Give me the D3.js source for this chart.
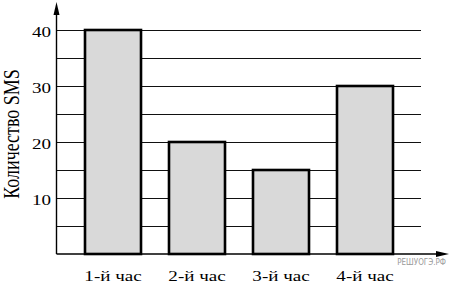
<!DOCTYPE html>
<html>
	<head>
		<script src="https://d3js.org/d3.v7.min.js" charset="utf-8"></script>
		<style>
			body { margin: 0; background: #fff; }
			text { font-family: "Liberation Serif", "Times New Roman", serif; fill: #000; }
		</style>
	</head>

	<body>
		<svg id="chart" width="450" height="287"></svg>

		<script>
            // data
            const hours = ["1-й час", "2-й час", "3-й час", "4-й час"];
            const smsCounts = [40, 20, 15, 30];
            const gridValues = [5, 10, 15, 20, 25, 30, 35, 40];
            const tickLabels = [10, 20, 30, 40];
            const yTitle = "Количество SMS";
            const watermark = "РЕШУОГЭ.РФ";

            const svg = d3.select("#chart");
            const stretch = 1.27;  // the original text is stretched horizontally

            var x = d3.scaleBand()
                .domain(hours)
                .range([71, 407])
                .paddingInner(1 / 3)
                .paddingOuter(1 / 6);
            var y = d3.scaleLinear()
                .domain([0, 40])
                .range([254, 30]);
            const axisX = 56.5;
            const gridEnd = 421;

            // grid lines
            svg.append("g")
                .selectAll("line")
                .data(gridValues)
                .enter()
                .append("line")
                .attr("x1", axisX)
                .attr("x2", gridEnd)
                .attr("y1", d => Math.round(y(d)) + 0.5)
                .attr("y2", d => Math.round(y(d)) + 0.5)
                .attr("stroke", "#111")
                .attr("stroke-width", 1.1);

            // bars
            svg.append("g")
                .selectAll("rect")
                .data(smsCounts)
                .enter()
                .append("rect")
                .attr("x", (d, i) => x(hours[i]))
                .attr("y", d => y(d))
                .attr("width", x.bandwidth())
                .attr("height", d => y(0) - y(d))
                .attr("fill", "#d9d9d9")
                .attr("stroke", "#000")
                .attr("stroke-width", 2.6);

            // axes with arrows
            svg.append("line")
                .attr("x1", axisX).attr("x2", axisX)
                .attr("y1", y(0)).attr("y2", 12)
                .attr("stroke", "#000").attr("stroke-width", 1.4);
            svg.append("path")
                .attr("d", `M${axisX},2 L${axisX - 3},15 L${axisX + 3},15 Z`)
                .attr("fill", "#000");
            svg.append("line")
                .attr("x1", axisX).attr("x2", 440)
                .attr("y1", y(0)).attr("y2", y(0))
                .attr("stroke", "#000").attr("stroke-width", 1.4);
            svg.append("path")
                .attr("d", `M449,${y(0)} L436,${y(0) - 3} L436,${y(0) + 3} Z`)
                .attr("fill", "#000");

            // y tick labels
            svg.append("g")
                .selectAll("text")
                .data(tickLabels)
                .enter()
                .append("text")
                .attr("transform", d => `translate(51, ${y(d) + 6.5}) scale(${stretch}, 1)`)
                .style("text-anchor", "end")
                .style("font-size", "15px")
                .text(d => d);

            // x category labels
            svg.append("g")
                .selectAll("text")
                .data(hours)
                .enter()
                .append("text")
                .attr("transform", d => `translate(${x(d) + x.bandwidth() / 2}, 281) scale(${stretch}, 1)`)
                .style("text-anchor", "middle")
                .style("font-size", "15px")
                .text(d => d);

            // y axis title
            svg.append("text")
                .attr("transform", `translate(18.5, 134) scale(${stretch}, 1) rotate(-90)`)
                .style("text-anchor", "middle")
                .style("font-size", "18px")
                .text(yTitle);

            // watermark
            svg.append("text")
                .attr("transform", "translate(446, 264.5) scale(0.8, 1)")
                .style("text-anchor", "end")
                .style("font-family", "'DejaVu Sans', sans-serif")
                .style("font-size", "9px")
                .style("fill", "#9a9a9a")
                .text(watermark);
		</script>
	</body>
</html>
